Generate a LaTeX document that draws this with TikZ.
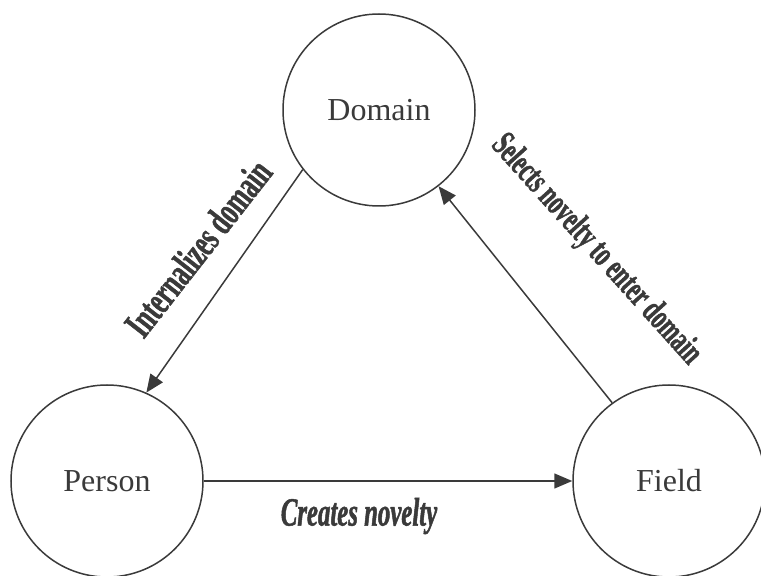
\documentclass[tikz,border=0pt]{standalone}
\usepackage{fontspec}
\setmainfont{Liberation Serif}
\newfontfamily\labfont[FakeStretch=0.62,FakeBold=1.2]{Liberation Serif}
\usetikzlibrary{arrows.meta}
\definecolor{ink}{HTML}{3A3A3A}
\begin{document}
\begin{tikzpicture}[x=1pt,y=1pt,
  ent/.style={circle,draw=ink,line width=1.5pt,minimum size=192pt,inner sep=0pt,
    text=ink,font=\fontsize{32}{36}\selectfont},
  arr/.style={draw=ink,line width=1.5pt,-{Triangle[length=18pt,width=15pt]}},
  lab/.style={text=ink,inner sep=0pt,font=\labfont\bfseries\fontsize{40}{44}\selectfont}]
\useasboundingbox (0,0) rectangle (761,576);
\node[ent] (dom) at (379,466) {Domain};
\node[ent] (per) at (107,95) {Person};
\node[ent] (fie) at (669,95) {Field};
\draw[arr] (dom.218) -- (per.66);
\draw[arr] (fie.126) -- (dom.308);
\draw[arr] (per.east) -- (fie.west);
\node[lab,rotate=52] (l1) at (198,328) {Internalizes domain};
\node[lab,rotate=-48,font=\labfont\bfseries\fontsize{36}{40}\selectfont] (l2) at (596,326) {Selects novelty to enter domain};
\node[lab,font=\labfont\bfseries\itshape\fontsize{40}{44}\selectfont] (l3) at (359,60) {Creates novelty};
\end{tikzpicture}
\end{document}
